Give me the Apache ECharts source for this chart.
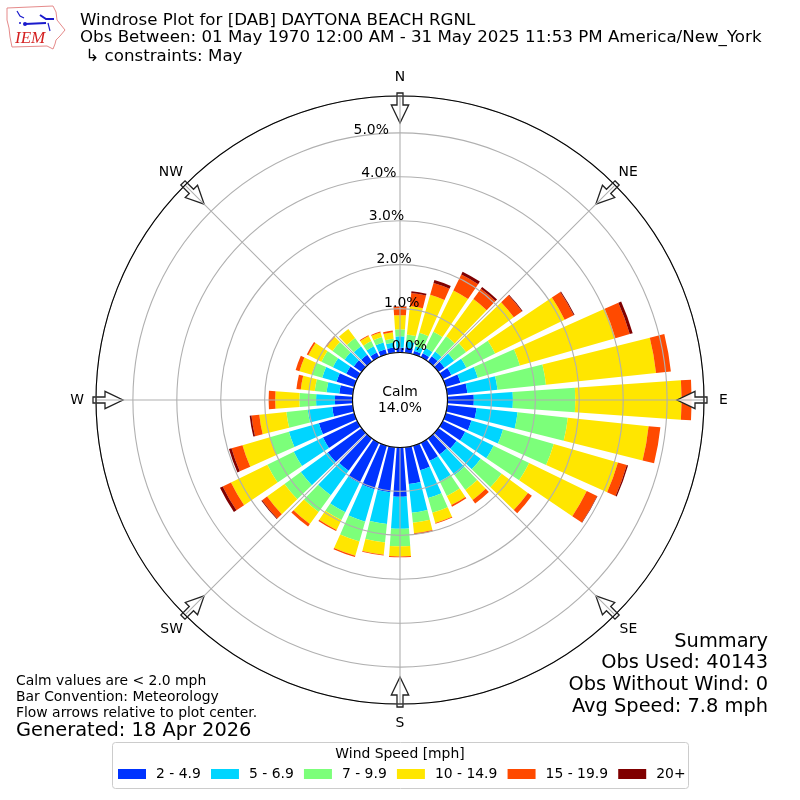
<!DOCTYPE html>
<html><head><meta charset="utf-8">
<style>html,body{margin:0;padding:0;background:#fff}#c{width:800px;height:800px}</style>
<script src="https://cdn.jsdelivr.net/npm/echarts@6/dist/echarts.min.js"></script>
</head><body><div id="c"></div>
<script>
const directions = Array.from({length:36},(_,i)=>String(i*10));
const speedBins = ['2 - 4.9','5 - 6.9','7 - 9.9','10 - 14.9','15 - 19.9','20+'];
const binColors = ['#0033ff','#00d5ff','#7cff7a','#ffe600','#ff4a00','#800000'];
const s2to5   = [.11,.12,.08,.10,.15,.17,.22,.35,.46,.60,.67,.61,.57,.51,.45,.46,.58,.84,1.12,1.03,1.03,1.02,.91,.95,.87,.84,.47,.40,.31,.42,.28,.22,.19,.12,.12,.12];
const s5to7   = [.26,.14,.11,.14,.13,.27,.38,.41,.69,.89,.94,.75,.72,.68,.58,.52,.66,.66,.73,.73,.77,.74,.69,.76,.74,.71,.56,.43,.29,.34,.34,.26,.24,.16,.16,.11];
const s7to10  = [.16,.16,.32,.41,.43,.34,.73,1.00,1.11,1.42,1.15,1.20,.90,.59,.42,.37,.35,.23,.40,.42,.47,.20,.47,.46,.67,.45,.49,.38,.27,.25,.29,.34,.23,.13,.13,.09];
const s10to15 = [.32,.65,.90,1.04,1.05,1.34,1.76,2.26,2.52,2.42,1.85,1.52,1.46,.74,.28,.23,.24,.24,.23,.28,.34,.25,.34,.49,.92,.65,.62,.55,.32,.29,.33,.16,.26,.13,.11,.15];
const s15to20 = [.19,.30,.28,.41,.29,.23,.23,.34,.34,.23,.27,.21,.26,.11,.10,.04,.02,.03,.02,.02,.03,.03,.07,.14,.21,.26,.18,.15,.10,.09,.04,.03,0,.02,.02,.04];
const s20plus = [.01,.04,.07,.07,.05,.02,.02,.07,0,0,0,.03,.01,0,0,0,0,0,0,0,0,0,0,.02,.07,.06,.04,0,0,0,0,0,0,0,0,0];
const seriesValues = [s2to5,s5to7,s7to10,s10to15,s15to20,s20plus];
const compass = {0:'n',45:'ne',90:'e',135:'se',180:'s',225:'sw',270:'w',315:'nw'};
const radialMax = 5.84;
const FONT = '"DejaVu Sans"';
const cx=400, cy=400;

function arrow(deg){
  const a=deg*Math.PI/180, ux=Math.sin(a), uy=-Math.cos(a), vx=-uy, vy=ux;
  const P=(r,w)=>[cx+ux*r+vx*w, cy+uy*r+vy*w];
  return {type:'polygon',z:5,silent:true,
    shape:{points:[P(307,-3),P(307,3),P(295,3),P(295,8.7),P(277,0),P(295,-8.7),P(295,-3)]},
    style:{fill:'rgba(255,255,255,0.9)',stroke:'#222',lineWidth:1.3}};
}
function txt(x,y,text,size,align,extra){
  return Object.assign({type:'text',z:20,silent:true,x:x,y:y,
    style:{text:text,fill:'#000',font:size+'px '+FONT,align:align||'left',verticalAlign:'middle'}},extra||{});
}
const logo=[
 {type:'polygon',z:20,silent:true,shape:{points:[[7,8],[53,6],[56,12],[57,20],[65,30],[60,36],[56,40],[55,44],[53,49],[47,46],[12,47],[10,37],[9,28],[7,20]]},style:{fill:'#fff',stroke:'#e58a8a',lineWidth:1}},
 {type:'polyline',z:21,silent:true,shape:{points:[[25,24],[46,23]]},style:{stroke:'#1a1acc',lineWidth:2,fill:'none'}},
 {type:'polyline',z:21,silent:true,shape:{points:[[17,11],[20,16],[24,18]]},style:{stroke:'#1a1acc',lineWidth:1.2,fill:'none'}},
 {type:'polyline',z:21,silent:true,shape:{points:[[40,15],[46,19],[54,19]]},style:{stroke:'#1a1acc',lineWidth:2,fill:'none'}},
 {type:'polyline',z:21,silent:true,shape:{points:[[48,23],[50,31]]},style:{stroke:'#1a1acc',lineWidth:1.2,fill:'none'}},
 {type:'circle',z:21,silent:true,shape:{cx:25,cy:24,r:2},style:{fill:'#1a1acc'}},
 {type:'circle',z:21,silent:true,shape:{cx:20,cy:23,r:1},style:{fill:'#1a1acc'}},
 {type:'text',z:21,silent:true,x:15,y:39,style:{text:'IEM',fill:'#d42020',font:'italic 17px "Liberation Serif"',verticalAlign:'middle'}}
];
const graphics=[
 ...logo,
 ...[0,45,90,135,180,225,270,315].map(arrow),
 txt(80,20.5,'Windrose Plot for [DAB] DAYTONA BEACH RGNL',16.67),
 txt(80,38,'Obs Between: 01 May 1970 12:00 AM - 31 May 2025 11:53 PM America/New_York',16.67),
 txt(80,56.5,' \u21b3 constraints: May',16.67),
 txt(400,392,'Calm',13.9,'center'),
 txt(400,408,'14.0%',13.9,'center'),
 txt(768,641.5,'Summary',19.4,'right'),
 txt(768,663,'Obs Used: 40143',19.4,'right'),
 txt(768,685,'Obs Without Wind: 0',19.4,'right'),
 txt(768,707,'Avg Speed: 7.8 mph',19.4,'right'),
 txt(16,681,'Calm values are < 2.0 mph',13.9),
 txt(16,697,'Bar Convention: Meteorology',13.9),
 txt(16,713,'Flow arrows relative to plot center.',13.9),
 txt(16,731,'Generated: 18 Apr 2026',19.4),
 {type:'rect',z:1,silent:true,shape:{x:112.5,y:742.5,width:576,height:46,r:3},style:{fill:'#fff',stroke:'#ccc',lineWidth:1}},
 txt(400,754,'Wind Speed [mph]',13.9,'center')
];

const option={
  animation:false,
  backgroundColor:'#fff',
  polar:[
    {center:[cx,cy],radius:[47.5,304]},
    {center:[cx,cy],radius:[47.5,304]},
    {center:[cx,cy],radius:[47.5,304]}
  ],
  angleAxis:[
    {polarIndex:0,type:'category',data:directions,startAngle:95,clockwise:true,boundaryGap:true,
     axisLine:{show:false},axisTick:{show:false},axisLabel:{show:false},splitLine:{show:false}},
    {polarIndex:1,type:'value',min:0,max:360,interval:45,startAngle:90,clockwise:true,z:10,
     axisLine:{show:true,lineStyle:{color:'#000',width:1.1}},axisTick:{show:false},
     axisLabel:{show:true,margin:3,color:'#000',fontFamily:'DejaVu Sans',fontSize:13.9,
       formatter:v=>{const k=compass[v%360];return k?'{'+k+'|'+k.toUpperCase()+'}':'';},
       rich:{
         n:{padding:[0,0,9,0]},s:{padding:[9,0,0,0]},e:{padding:[0,0,0,12]},w:{padding:[0,9,0,0]},
         ne:{padding:[0,0,4,1.5]},nw:{padding:[0,0,4,0]},se:{padding:[5,0,0,2.5]},sw:{padding:[5,0,0,0]}
       }},
     splitLine:{show:true,lineStyle:{color:'#b0b0b0',width:1.1,type:'solid'}}},
    {polarIndex:2,type:'value',min:0,max:360,startAngle:100,clockwise:true,z:11,
     axisLine:{show:false},axisTick:{show:false},axisLabel:{show:false},splitLine:{show:false}}
  ],
  radiusAxis:[
    {polarIndex:0,type:'value',min:0,max:radialMax,axisLine:{show:false},axisTick:{show:false},axisLabel:{show:false},splitLine:{show:false}},
    {polarIndex:1,type:'value',min:0,max:radialMax,interval:1,z:10,axisLine:{show:false},axisTick:{show:false},axisLabel:{show:false},
     splitLine:{show:true,lineStyle:{color:'#b0b0b0',width:1.1,type:'solid'}}},
    {polarIndex:2,type:'value',min:0,max:radialMax,interval:1,z:12,axisLine:{show:false},axisTick:{show:false},splitLine:{show:false},
     axisLabel:{show:true,inside:true,margin:0,color:'#000',fontFamily:'DejaVu Sans',fontSize:13.9,rotate:0,align:'left',verticalAlign:'bottom',
       formatter:v=>Number.isInteger(v)?v.toFixed(1)+'%':''}}
  ],
  legend:{left:118,top:767,itemWidth:28,itemHeight:10,itemGap:10.2,icon:'rect',selectedMode:false,padding:0,z:20,
    data:speedBins,textStyle:{color:'#000',fontFamily:'DejaVu Sans',fontSize:13.9,padding:[0,0,0,5]}},
  graphic:{elements:graphics},
  series:speedBins.map((name,i)=>({
    name:name,type:'bar',coordinateSystem:'polar',polarIndex:0,stack:'wind',barWidth:'80%',
    data:seriesValues[i],itemStyle:{color:binColors[i]},z:2,silent:true
  }))
};
const chart=echarts.init(document.getElementById('c'),null,{renderer:'canvas'});
chart.setOption(option);
</script></body></html>
